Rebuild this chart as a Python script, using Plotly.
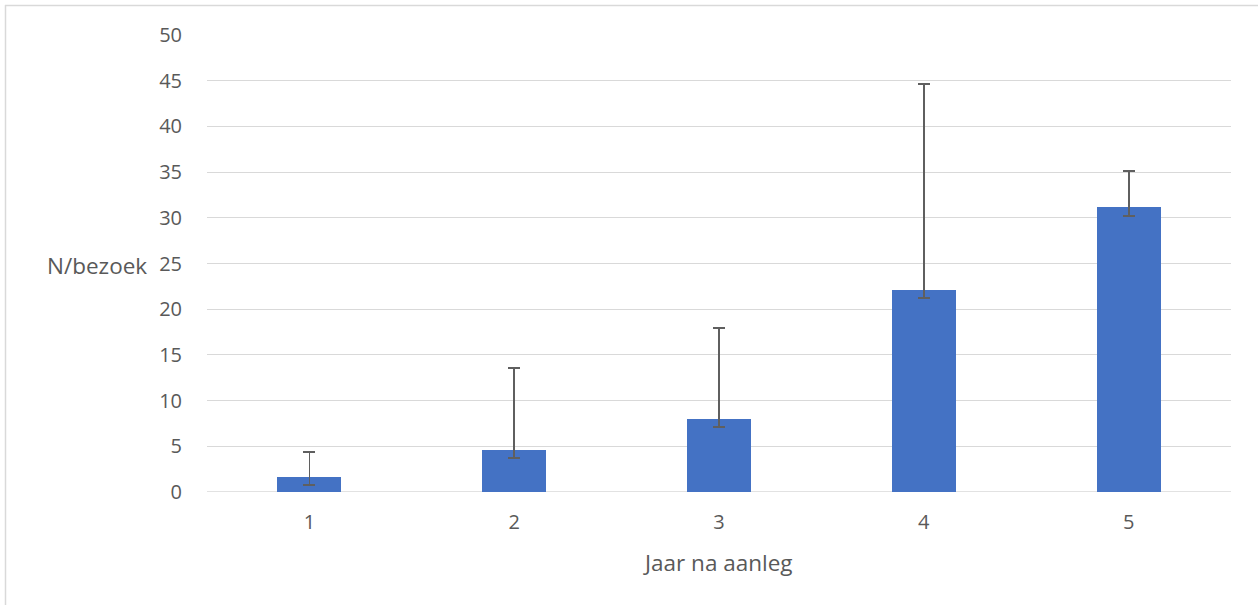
import plotly.graph_objects as go

years = [1, 2, 3, 4, 5]
means = [1.65, 4.65, 8.0, 22.15, 31.13]
upper = [4.4, 13.6, 17.95, 44.65, 35.15]
lower = [0.75, 3.7, 7.15, 21.25, 30.2]
y_ticks = [0, 5, 10, 15, 20, 25, 30, 35, 40, 45, 50]

err_plus = [u - m for u, m in zip(upper, means)]
err_minus = [m - l for m, l in zip(means, lower)]

W, H = 1258, 605
ML, MR, MT, MB = 207, 27, 35, 113
PW, PH = W - ML - MR, H - MT - MB


def px(x):
    return (x - ML) / PW


def py(y):
    return (H - MB - y) / PH


font = "Open Sans"
grey = "#595959"

fig = go.Figure()
fig.add_trace(go.Bar(
    x=years, y=means, width=0.3125,
    marker=dict(color="#4472C4", line=dict(width=0)),
    error_y=dict(type="data", symmetric=False, array=err_plus, arrayminus=err_minus,
                 color="#5F5F5F", thickness=1.8, width=6),
))

fig.update_layout(
    width=W, height=H,
    margin=dict(l=ML, r=MR, t=MT, b=MB),
    paper_bgcolor="white", plot_bgcolor="white",
    showlegend=False,
    bargap=0,
    font=dict(family=font, color=grey, size=20),
    xaxis=dict(range=[0.5, 5.5], tickmode="array", tickvals=years,
               ticktext=[str(v) for v in years], showgrid=False, zeroline=False,
               showline=False, ticks="outside", ticklen=12, tickcolor="rgba(0,0,0,0)",
               tickfont=dict(size=20, color=grey, family=font)),
    yaxis=dict(range=[0, 50], tickmode="array", tickvals=y_ticks,
               showgrid=True, gridcolor="#D9D9D9", gridwidth=1.3, zeroline=False,
               showline=False, ticks="outside", ticklen=20, tickcolor="rgba(0,0,0,0)",
               tickfont=dict(size=20, color=grey, family=font)),
    annotations=[
        dict(text="N/bezoek", xref="paper", yref="paper", x=px(149), y=py(265),
             xanchor="right", yanchor="middle", showarrow=False,
             font=dict(size=22.5, color=grey, family=font)),
        dict(text="Jaar na aanleg", xref="paper", yref="paper", x=px(718), y=py(562),
             xanchor="center", yanchor="middle", showarrow=False,
             font=dict(size=22.5, color=grey, family=font)),
    ],
    shapes=[
        dict(type="line", xref="paper", yref="paper", x0=px(5), x1=px(1258),
             y0=py(5.5), y1=py(5.5), line=dict(color="#D9D9D9", width=1.5)),
        dict(type="line", xref="paper", yref="paper", x0=px(5.5), x1=px(5.5),
             y0=py(5), y1=py(605), line=dict(color="#D9D9D9", width=1.5)),
        dict(type="line", xref="paper", yref="y", x0=0, x1=1, y0=0, y1=0,
             line=dict(color="#D9D9D9", width=1.3), layer="below"),
    ],
)

fig.write_html("out.html", config={"displayModeBar": False},
               post_script="document.body.style.margin='0';document.body.style.overflow='hidden';")
